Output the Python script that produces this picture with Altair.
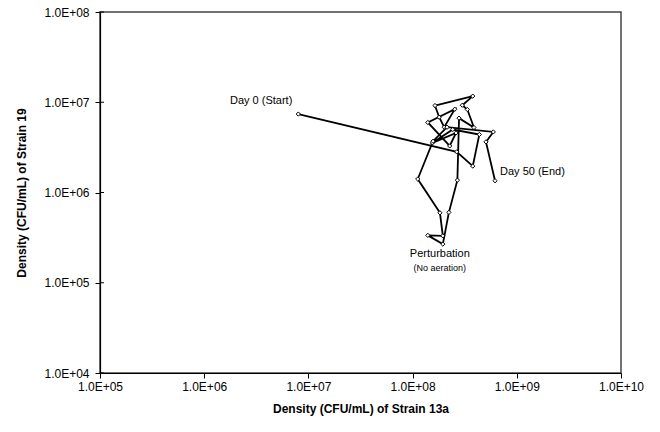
import altair as alt
import pandas as pd

# Daily densities (CFU/mL) of the two strains, day 0 through day 50
strain_13a = [8.0e6, 2.65e8, 3.78e8, 4.37e8, 2.43e8, 1.55e8, 2.61e8, 2.27e8,
              1.40e8, 2.54e8, 2.01e8, 1.80e8, 1.64e8, 3.78e8, 3.00e8, 3.35e8,
              3.88e8, 2.79e8, 2.69e8, 2.23e8, 1.95e8, 1.40e8, 1.95e8, 1.83e8,
              1.12e8, 1.57e8, 2.14e8, 5.95e8, 5.06e8, 6.18e8]
strain_19 = [7.4e6, 2.82e6, 1.96e6, 4.39e6, 4.99e6, 3.55e6, 4.57e6, 3.28e6,
             5.97e6, 8.37e6, 5.29e6, 6.83e6, 9.20e6, 1.17e7, 9.27e6, 8.31e6,
             5.25e6, 6.66e6, 1.37e6, 6.02e5, 2.68e5, 3.35e5, 3.31e5, 5.96e5,
             1.41e6, 3.70e6, 5.29e6, 4.69e6, 3.64e6, 1.35e6]

x_ticks = [1e5, 1e6, 1e7, 1e8, 1e9, 1e10]
y_ticks = [1e4, 1e5, 1e6, 1e7, 1e8]

# Annotated samples: index into the series, label, offsets, size
note_index = [0, len(strain_13a) - 1, 20, 20]
note_text = ["Day 0 (Start)", "Day 50 (End)", "Perturbation", "(No aeration)"]
note_align = ["right", "left", "center", "center"]
note_dx = [-6, 5, -3, -3]
note_dy = [-13, -9, 10, 24]
note_size = [11, 11, 11, 9]

FONT = "Liberation Sans"

traj = pd.DataFrame({
    "step": list(range(len(strain_13a))),
    "x": strain_13a,
    "y": strain_19,
})

label_expr = ("'1.0E+' + (round(log(datum.value)/LN10) < 10 ? '0' : '') "
              "+ round(log(datum.value)/LN10)")

x_enc = alt.X(
    "x:Q",
    scale=alt.Scale(type="log", domain=[1e5, 1e10], nice=False),
    axis=alt.Axis(values=x_ticks, labelExpr=label_expr, labelFlush=False,
                  title="Density (CFU/mL) of Strain 13a",
                  labelPadding=3, titlePadding=11),
)
y_enc = alt.Y(
    "y:Q",
    scale=alt.Scale(type="log", domain=[1e4, 1e8], nice=False),
    axis=alt.Axis(values=y_ticks, labelExpr=label_expr, labelFlush=False,
                  title="Density (CFU/mL) of Strain 19",
                  labelPadding=6, titlePadding=15),
)

line = alt.Chart(traj).mark_line(color="black", strokeWidth=1.8).encode(
    x=x_enc, y=y_enc, order="step:Q"
)
points = alt.Chart(traj).mark_point(
    shape="diamond", size=18, filled=True, fill="white",
    stroke="black", strokeWidth=1, opacity=1
).encode(x="x:Q", y="y:Q")

# inner half of the crossing y-axis tick marks
inner_ticks = alt.Chart(pd.DataFrame({"y": y_ticks})).mark_rule(
    color="black", strokeWidth=1
).encode(y="y:Q", x=alt.value(0), x2=alt.value(4))

layers = [line, points, inner_ticks]
for i, text, align, dx, dy, size in zip(note_index, note_text, note_align,
                                        note_dx, note_dy, note_size):
    df = pd.DataFrame({"x": [strain_13a[i]], "y": [strain_19[i]], "t": [text]})
    layers.append(
        alt.Chart(df).mark_text(
            align=align, baseline="middle", dx=dx, dy=dy,
            font=FONT, fontSize=size, color="black"
        ).encode(x="x:Q", y="y:Q", text="t:N")
    )

chart = alt.layer(*layers).properties(
    width=521, height=361,
    autosize=alt.AutoSizeParams(type="none"),
    padding={"left": 100, "top": 12, "right": 39, "bottom": 59},
    background="white",
).configure_view(
    stroke="#444", strokeWidth=1.5
).configure_axis(
    grid=False, domainColor="black", domainWidth=1.2,
    tickColor="black", tickSize=5,
    labelFont=FONT, labelFontSize=12, labelColor="black",
    titleFont=FONT, titleFontSize=12, titleFontWeight="bold", titleColor="black",
)

chart.save("out.html", embed_options={"renderer": "svg", "actions": False})
